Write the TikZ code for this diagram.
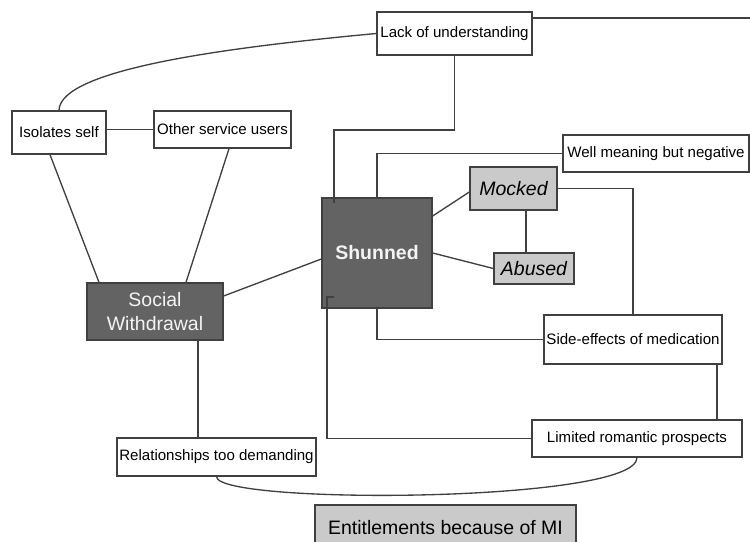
\documentclass[tikz,border=0pt]{standalone}
\usepackage{fontspec}
\setmainfont{Liberation Sans}
\usetikzlibrary{calc}

\begin{document}
\begin{tikzpicture}[x=0.75pt,y=0.75pt,yscale=-1,xscale=1,
  box/.style={draw={rgb, 255:red, 64; green, 64; blue, 64 }, line width=1pt, fill=white, inner sep=0pt, text=black, font=\fontsize{11.3}{13}\selectfont},
  darkbox/.style={box, fill={rgb, 255:red, 99; green, 99; blue, 99 }, text={rgb, 255:red, 244; green, 244; blue, 244 }, font=\fontsize{14.6}{18}\selectfont, align=center},
  greybox/.style={box, fill={rgb, 255:red, 202; green, 202; blue, 202 }, font=\fontsize{14.6}{18}\selectfont},
  link/.style={draw={rgb, 255:red, 64; green, 64; blue, 64 }, line width=1pt}]
\useasboundingbox (0,0) rectangle (750,542);
\clip (0,0) rectangle (750,542);

%Flowchart: Process
\draw (454.5,33.5) node [box, minimum width=116.25pt, minimum height=32.25pt] (lack) {Lack of understanding};
%Flowchart: Process
\draw (59,132.5) node [box, minimum width=70.5pt, minimum height=32.25pt] (isol) {Isolates self};
%Flowchart: Process
\draw (222.5,129.5) node [box, minimum width=102.75pt, minimum height=27.75pt] (other) {Other service users};
%Flowchart: Process
\draw (155,311.5) node [darkbox, minimum width=102pt, minimum height=42.75pt] (social) {Social\\Withdrawal};
%Flowchart: Process
\draw (377,253) node [darkbox, minimum width=82.5pt, minimum height=82.5pt] (shun) {\bfseries Shunned};
%Flowchart: Process
\draw (656,153.5) node [box, minimum width=139.5pt, minimum height=27.75pt] (well) {Well meaning but negative};
%Flowchart: Process
\draw (513.5,188.5) node [greybox, minimum width=65.25pt, minimum height=32.25pt] (mock) {\itshape Mocked};
%Flowchart: Process
\draw (534,268.5) node [greybox, minimum width=60pt, minimum height=23.25pt] (abus) {\itshape Abused};
%Flowchart: Process
\draw (633,339.5) node [box, minimum width=133.5pt, minimum height=36.75pt] (side) {Side-effects of medication};
%Flowchart: Process
\draw (637,438.5) node [box, minimum width=157.5pt, minimum height=27.75pt] (limi) {Limited romantic prospects};
%Flowchart: Process
\draw (216.5,457) node [box, minimum width=149.25pt, minimum height=28.5pt] (rela) {Relationships too demanding};
%Flowchart: Process
\draw (445.5,528) node [greybox, minimum width=195.75pt, minimum height=34.5pt] (enti) {Entitlements because of MI};

% bends and free ends
\coordinate (offR) at (750,18);
\coordinate (b1) at (334,130);
\coordinate (b2) at (327,297);
\coordinate (mx) at (526,0);
\coordinate (sx) at (717,0);
\coordinate (wx) at (198,0);

%Straight Lines
\draw [link] (offR -| lack.east) -- (offR);
%Curve Lines
\draw [link] (lack.west) .. controls (220,48) and (60,70) .. (isol.north);
%Straight Lines
\draw [link] (other.west -| isol.east) -- (other.west);
\draw [link] ($(isol.south)+(-9,0)$) -- ($(social.north)+(-56,0)$);
\draw [link] ($(other.south)+(6.5,0)$) -- ($(social.north)+(31,0)$);
\draw [link] ($(social.east)+(0,-15.5)$) -- ($(shun.west)+(0,6)$);
%Straight Lines
\draw [link] (lack.south) |- (b1) -- ++(0,73);
\draw [link] (well.west) -| (shun.north);
\draw [link] ($(shun.east)+(0,-37)$) -- ($(mock.west)+(0,3.5)$);
\draw [link] (shun.east) -- (abus.west);
\draw [link] (mock.south -| mx) -- (abus.north -| mx);
\draw [link] (mock.east) -| (side.north);
\draw [link] (shun.south) |- (side.west);
\draw [link] (side.south -| sx) -- (limi.north -| sx);
\draw [link] (limi.west) -| (b2) -- ++(7,0);
\draw [link] (social.south -| wx) -- (rela.north -| wx);
%Curve Lines
\draw [link] (rela.south) .. controls (217,505) and (637,503) .. (limi.south);

\end{tikzpicture}
\end{document}
